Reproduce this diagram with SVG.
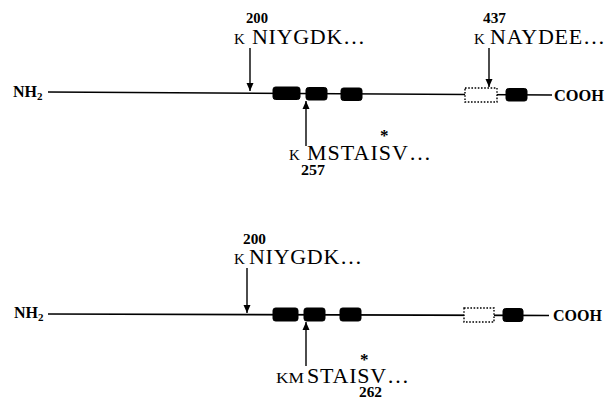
<svg xmlns="http://www.w3.org/2000/svg" width="612" height="400" viewBox="0 0 612 400">
<defs>
<marker id="ah" viewBox="0 0 8 10" refX="8" refY="5" markerWidth="8" markerHeight="10" markerUnits="userSpaceOnUse" orient="auto">
<path d="M0,1.5 L8,5 L0,8.5 Z" fill="#000"/>
</marker>
</defs>
<style>
text{font-family:"Liberation Serif","Times New Roman",serif;fill:#000}
.term{font-size:16px;font-weight:bold}
.num{font-size:15px;font-weight:bold}
.seq{font-size:22px}
.k{font-size:15px}
.ast{font-size:17px;font-weight:bold}
.chain{stroke:#000;stroke-width:1.6;fill:none}
.dom{fill:#000;stroke:#000;stroke-width:1}
.dash{fill:#fff;stroke:#000;stroke-width:1.4;stroke-dasharray:1.6,1.6}
.arr{stroke:#000;stroke-width:1.4;fill:none}
</style>
<rect width="612" height="400" fill="#fff"/>

<g id="connectors">
<line class="chain" x1="48" y1="92" x2="552" y2="95"/>
<line class="chain" x1="48" y1="314" x2="549" y2="315.5"/>
<line class="arr" x1="250" y1="48" x2="250" y2="91" marker-end="url(#ah)"/>
<line class="arr" x1="306" y1="146" x2="306" y2="101" marker-end="url(#ah)"/>
<line class="arr" x1="489" y1="48" x2="489" y2="87" marker-end="url(#ah)"/>
<line class="arr" x1="247" y1="268" x2="247" y2="313" marker-end="url(#ah)"/>
<line class="arr" x1="306" y1="366" x2="306" y2="322" marker-end="url(#ah)"/>
</g>

<g id="protein1">
<g id="p1-nterm"><text class="term" x="13" y="97">NH<tspan font-size="11" dy="3">2</tspan></text></g>
<g id="p1-dom1"><rect class="dom" x="273" y="87" width="27" height="12.5" rx="2.5"/></g>
<g id="p1-dom2"><rect class="dom" x="306" y="87.5" width="21" height="12.5" rx="2.5"/></g>
<g id="p1-dom3"><rect class="dom" x="341" y="88" width="21" height="12.5" rx="2.5"/></g>
<g id="p1-dom4"><rect class="dash" x="465" y="88" width="32" height="14"/></g>
<g id="p1-dom5"><rect class="dom" x="506" y="88.5" width="21" height="12.5" rx="2.5"/></g>
<g id="p1-cterm"><text class="term" x="554" y="101" font-size="17" textLength="50" lengthAdjust="spacingAndGlyphs">COOH</text></g>
<g id="p1-site200">
<text class="num" x="246" y="23" textLength="22" lengthAdjust="spacingAndGlyphs">200</text>
<text class="k" x="234" y="44">K</text>
<text class="seq" x="252" y="44" textLength="113" lengthAdjust="spacing">NIYGDK…</text>
</g>
<g id="p1-site257">
<text class="ast" x="380" y="141">*</text>
<text class="k" x="289" y="160">K</text>
<text class="seq" x="307" y="160" textLength="124" lengthAdjust="spacing">MSTAISV…</text>
<text class="num" x="301" y="175" textLength="24" lengthAdjust="spacingAndGlyphs">257</text>
</g>
<g id="p1-site437">
<text class="num" x="483" y="23" textLength="23" lengthAdjust="spacingAndGlyphs">437</text>
<text class="k" x="474" y="44">K</text>
<text class="seq" x="490" y="44" textLength="115" lengthAdjust="spacing">NAYDEE…</text>
</g>
</g>

<g id="protein2">
<g id="p2-nterm"><text class="term" x="14" y="318">NH<tspan font-size="11" dy="3">2</tspan></text></g>
<g id="p2-dom1"><rect class="dom" x="273" y="308" width="25" height="13" rx="2.5"/></g>
<g id="p2-dom2"><rect class="dom" x="304" y="308" width="21" height="13" rx="2.5"/></g>
<g id="p2-dom3"><rect class="dom" x="340" y="308" width="21" height="13" rx="2.5"/></g>
<g id="p2-dom4"><rect class="dash" x="464" y="308" width="30" height="14"/></g>
<g id="p2-dom5"><rect class="dom" x="503" y="308.5" width="20" height="13" rx="2.5"/></g>
<g id="p2-cterm"><text class="term" x="553" y="321" font-size="17" textLength="49" lengthAdjust="spacingAndGlyphs">COOH</text></g>
<g id="p2-site200">
<text class="num" x="243" y="244" textLength="23" lengthAdjust="spacingAndGlyphs">200</text>
<text class="k" x="234" y="264">K</text>
<text class="seq" x="249" y="264" textLength="113" lengthAdjust="spacing">NIYGDK…</text>
</g>
<g id="p2-site262">
<text class="ast" x="360" y="365">*</text>
<text class="k" x="276" y="383" font-size="16" textLength="28" lengthAdjust="spacingAndGlyphs">KM</text>
<text class="seq" x="307" y="383" font-size="23" textLength="102" lengthAdjust="spacing">STAISV…</text>
<text class="num" x="359" y="397" textLength="23" lengthAdjust="spacingAndGlyphs">262</text>
</g>
</g>
</svg>
